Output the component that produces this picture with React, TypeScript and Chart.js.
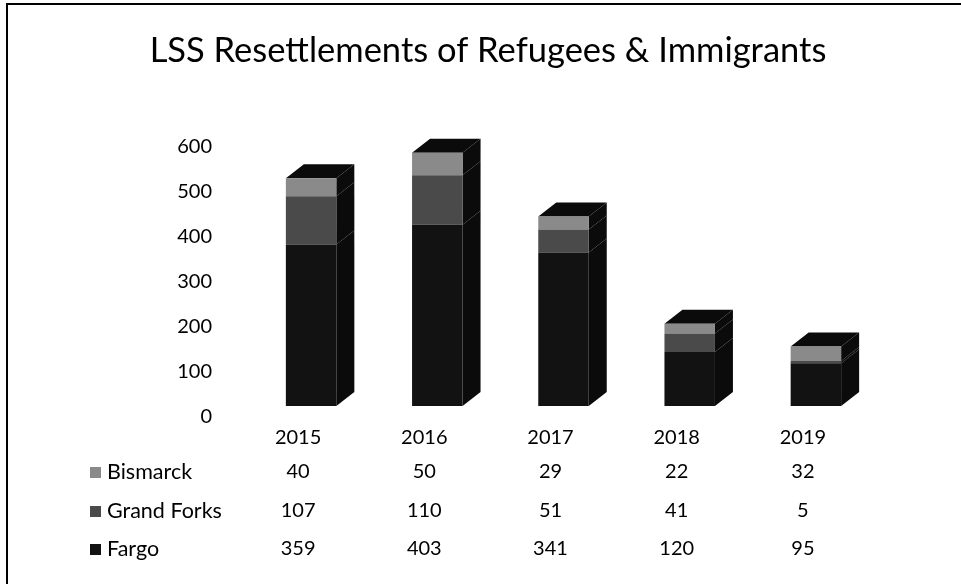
import React, { useEffect, useRef } from "react";
import { Chart, registerables } from "chart.js";

Chart.register(...registerables);

const TITLE = "LSS Resettlements of Refugees & Immigrants";
const years = ["2015", "2016", "2017", "2018", "2019"];
const seriesNames = ["Bismarck", "Grand Forks", "Fargo"];
const bismarck = [40, 50, 29, 22, 32];
const grandForks = [107, 110, 51, 41, 5];
const fargo = [359, 403, 341, 120, 95];
const yTicks = [0, 100, 200, 300, 400, 500, 600];

const COLORS: Record<string, string> = {
  Bismarck: "#8a8a8a",
  "Grand Forks": "#4a4a4a",
  Fargo: "#121212",
};
const FONT = "Lato, 'Open Sans', sans-serif";

// 3D projection look
const SHIFT_X = 13;
const SHIFT_Y = -11;
const DEPTH_X = 18;
const DEPTH_Y = -14;

const frame = {
  id: "frame",
  beforeDraw(chart: any) {
    const ctx = chart.ctx;
    ctx.save();
    ctx.fillStyle = "#ffffff";
    ctx.fillRect(0, 0, chart.width, chart.height);
    ctx.strokeStyle = "#000";
    ctx.lineWidth = 2;
    ctx.beginPath();
    ctx.moveTo(7, chart.height);
    ctx.lineTo(7, 4);
    ctx.lineTo(chart.width, 4);
    ctx.stroke();
    ctx.restore();
  },
  afterDraw(chart: any) {
    const ctx = chart.ctx;
    ctx.save();
    ctx.font = `34.5px ${FONT}`;
    ctx.fillStyle = "#000";
    ctx.textAlign = "center";
    ctx.textBaseline = "middle";
    ctx.fillText(TITLE, 488, 51);
    ctx.restore();
  },
};

const bars3d = {
  id: "bars3d",
  beforeDatasetsDraw(chart: any) {
    const ctx = chart.ctx;
    ctx.save();
    ctx.translate(SHIFT_X, SHIFT_Y);
    const metas = chart.getSortedVisibleDatasetMetas();
    const n = years.length;
    for (let i = 0; i < n; i++) {
      metas.forEach((meta: any, k: number) => {
        const el = meta.data[i];
        if (!el) return;
        const { x, y, base, width } = el.getProps(["x", "y", "base", "width"], true);
        const L = x - width / 2;
        const R = x + width / 2;
        ctx.fillStyle = "#0b0b0b";
        ctx.beginPath();
        ctx.moveTo(R, y);
        ctx.lineTo(R + DEPTH_X, y + DEPTH_Y);
        ctx.lineTo(R + DEPTH_X, base + DEPTH_Y);
        ctx.lineTo(R, base);
        ctx.closePath();
        ctx.fill();
        if (k === metas.length - 1) {
          ctx.beginPath();
          ctx.moveTo(L, y);
          ctx.lineTo(L + DEPTH_X, y + DEPTH_Y);
          ctx.lineTo(R + DEPTH_X, y + DEPTH_Y);
          ctx.lineTo(R, y);
          ctx.closePath();
          ctx.fill();
        }
      });
    }
  },
  afterDatasetsDraw(chart: any) {
    chart.ctx.restore();
  },
};

const dataTable = {
  id: "dataTable",
  afterDraw(chart: any) {
    const ctx = chart.ctx;
    const xs = chart.scales.x;
    const rows = [
      { name: seriesNames[0], values: bismarck, y: 472 },
      { name: seriesNames[1], values: grandForks, y: 511 },
      { name: seriesNames[2], values: fargo, y: 549 },
    ];
    ctx.save();
    ctx.textBaseline = "middle";
    rows.forEach((r) => {
      ctx.fillStyle = COLORS[r.name];
      ctx.fillRect(90, r.y - 5, 11, 11);
      ctx.fillStyle = "#000";
      ctx.textAlign = "left";
      ctx.font = `21.5px ${FONT}`;
      ctx.fillText(r.name, 107, r.y);
      ctx.textAlign = "center";
      ctx.font = `20px ${FONT}`;
      r.values.forEach((v, i) => {
        ctx.fillText(String(v), xs.getPixelForValue(i), r.y);
      });
    });
    ctx.restore();
  },
};

export default function App() {
  const ref = useRef<HTMLCanvasElement | null>(null);
  useEffect(() => {
    if (!ref.current) return;
    const chart = new Chart(ref.current, {
      type: "bar",
      data: {
        labels: years,
        datasets: [
          { label: seriesNames[2], data: fargo, backgroundColor: COLORS.Fargo },
          { label: seriesNames[1], data: grandForks, backgroundColor: COLORS["Grand Forks"] },
          { label: seriesNames[0], data: bismarck, backgroundColor: COLORS.Bismarck },
        ],
      },
      options: {
        responsive: false,
        animation: false,
        clip: false as any,
        layout: { padding: { left: 0, right: 95, top: 147, bottom: 0 } },
        datasets: { bar: { categoryPercentage: 1, barPercentage: 0.4, borderWidth: 0 } },
        plugins: {
          legend: { display: false },
          tooltip: { enabled: false },
          title: { display: false },
        },
        scales: {
          x: {
            stacked: true,
            grid: { display: false, drawTicks: false },
            border: { display: false },
            ticks: { color: "#000", font: { family: FONT, size: 20 }, padding: 9 },
            afterFit: (s: any) => {
              s.height = 167;
            },
          },
          y: {
            stacked: true,
            min: yTicks[0],
            max: yTicks[yTicks.length - 1],
            grid: { display: false, drawTicks: false },
            border: { display: false },
            ticks: {
              stepSize: yTicks[1] - yTicks[0],
              color: "#000",
              font: { family: FONT, size: 20 },
              padding: 23,
            },
            afterFit: (s: any) => {
              s.width = 235;
            },
          },
        },
      },
      plugins: [frame, bars3d, dataTable],
    });
    return () => chart.destroy();
  }, []);
  return (
    <div style={{ position: "fixed", left: 0, top: 0, width: 961, height: 584, background: "#fff" }}>
      <canvas ref={ref} width={961} height={584} style={{ width: 961, height: 584, display: "block" }} />
    </div>
  );
}
